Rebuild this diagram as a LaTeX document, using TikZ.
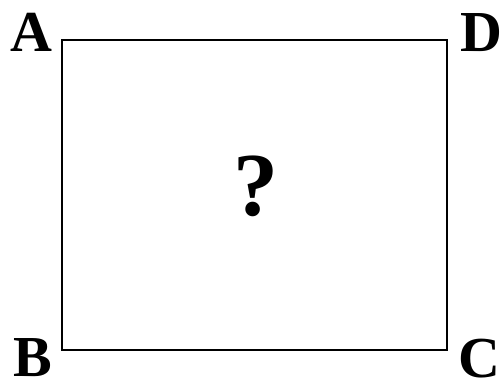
\documentclass[tikz,border=0pt]{standalone}
\usepackage{fontspec}
\setmainfont{Liberation Serif}
\begin{document}
\begin{tikzpicture}[x=1pt,y=1pt,
  corner/.style={inner sep=0pt,font=\fontsize{58}{58}\selectfont\bfseries},
  qmark/.style={inner sep=0pt,font=\fontsize{90}{90}\selectfont\bfseries}]
\useasboundingbox (0,0) rectangle (502,385);
\coordinate (pA) at (62,345);
\coordinate (pD) at (447,345);
\coordinate (pC) at (447,35);
\coordinate (pB) at (62,35);
\draw[line width=2.5pt] (pA) -- (pD) -- (pC) -- (pB) -- cycle;
\node[corner] (A) at (31,352.5) {A};
\node[corner] (D) at (481,352.5) {D};
\node[corner] (B) at (32.5,27.5) {B};
\node[corner] (C) at (479,26) {C};
\node[qmark] (Q) at (256,199) {?};
\end{tikzpicture}
\end{document}
